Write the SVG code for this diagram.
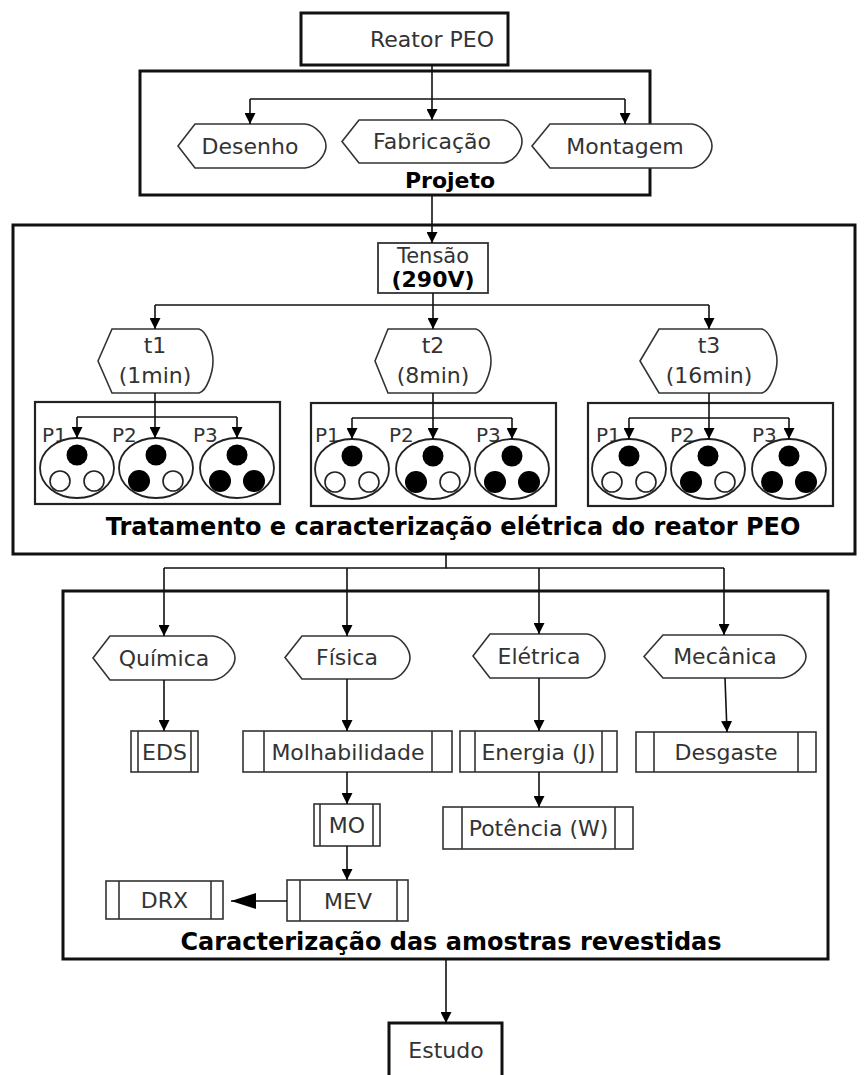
<svg xmlns="http://www.w3.org/2000/svg" width="867" height="1075" viewBox="0 0 867 1075">
<defs>
<marker id="ah" markerUnits="userSpaceOnUse" markerWidth="11" markerHeight="11" refX="11" refY="5.5" orient="auto"><path d="M0,0 L11,5.5 L0,11 z" fill="#000"/></marker>
<marker id="ahb" markerUnits="userSpaceOnUse" markerWidth="25" markerHeight="16" refX="25" refY="8" orient="auto"><path d="M0,0 L25,8 L0,16 z" fill="#000"/></marker>
<style>
.frame{fill:#fff;stroke:#111;stroke-width:3}
.grp{fill:none;stroke:#222;stroke-width:2.2}
.shape{fill:#fff;stroke:#333;stroke-width:1.6}
.proc{fill:#fff;stroke:#333;stroke-width:1.6}
.conn{fill:none;stroke:#111;stroke-width:1.6}
.t{font-family:"DejaVu Sans",sans-serif;font-size:22px;fill:#333;text-anchor:middle}
.p{font-family:"DejaVu Sans",sans-serif;font-size:20px;fill:#333}
.b{font-family:"DejaVu Sans",sans-serif;font-weight:bold;font-size:24px;fill:#000;text-anchor:middle}
.dot{fill:#000}
.hole{fill:#fff;stroke:#222;stroke-width:1.6}
.ell{fill:#fff;stroke:#222;stroke-width:1.8}
</style>
</defs>

<g id="frame-projeto"><rect class="frame" x="140" y="71" width="510" height="124"/><text class="b" x="450" y="188" style="font-size:22px">Projeto</text></g>
<g id="frame-tratamento"><rect class="frame" x="13" y="225" width="842" height="329"/><text class="b" x="453" y="535">Tratamento e caracterização elétrica do reator PEO</text></g>
<g id="frame-caracterizacao"><rect class="frame" x="63" y="591" width="765" height="368"/><text class="b" x="451" y="950">Caracterização das amostras revestidas</text></g>

<g id="reator"><rect class="frame" x="301" y="13" width="207" height="52"/><text class="t" x="432" y="47">Reator PEO</text></g>
<g id="estudo"><rect class="frame" x="389" y="1023" width="113" height="70"/><text class="t" x="446" y="1058">Estudo</text></g>

<g id="desenho"><path class="shape" d="M178,146 L195,124 L305,124 C316,125 326,137 326,146 C326,155 316,167 305,168 L195,168 Z"/><text class="t" x="250" y="153.5">Desenho</text></g>
<g id="fabricacao"><path class="shape" d="M342,141.5 L359,120 L503,120 C513,121 522,132 522,141.5 C522,151 513,162 503,163 L359,163 Z"/><text class="t" x="432" y="149">Fabricação</text></g>
<g id="montagem"><path class="shape" d="M532,146 L550,124 L692,124 C702,125 712,137 712,146 C712,155 702,167 692,168 L550,168 Z"/><text class="t" x="625" y="153.5">Montagem</text></g>

<g id="tensao"><rect x="378" y="243" width="110" height="50" fill="#fff" stroke="#333" stroke-width="1.8"/><text class="t" x="433" y="263" style="font-size:21px">Tensão</text><text class="b" x="433" y="287" style="font-size:22px">(290V)</text></g>

<g id="t1"><path class="shape" d="M98,361 L112,329 L199,329 C207,331 213,350 213,361 C213,372 207,391 199,393 L112,393 Z"/><text class="t" x="155" y="353">t1</text><text class="t" x="155" y="383">(1min)</text></g>
<g id="t2"><path class="shape" d="M375,361 L388,329 L476,329 C484,331 491,350 491,361 C491,372 484,391 476,393 L388,393 Z"/><text class="t" x="433" y="353">t2</text><text class="t" x="433" y="383">(8min)</text></g>
<g id="t3"><path class="shape" d="M640,361 L659,329 L762,329 C770,331 777,350 777,361 C777,372 770,391 762,393 L659,393 Z"/><text class="t" x="709" y="353">t3</text><text class="t" x="709" y="383">(16min)</text></g>

<g id="grupo-t1">
<rect class="grp" x="35" y="402" width="245" height="102"/>
<text class="p" x="42" y="442">P1</text><text class="p" x="112" y="442">P2</text><text class="p" x="193" y="442">P3</text>
<ellipse class="ell" cx="77" cy="468" rx="37" ry="30"/><circle class="dot" cx="77" cy="455" r="10.5"/><circle class="hole" cx="60" cy="481" r="10"/><circle class="hole" cx="94" cy="481" r="10"/>
<ellipse class="ell" cx="156" cy="468" rx="37" ry="30"/><circle class="dot" cx="156" cy="455" r="10.5"/><circle class="dot" cx="139" cy="481" r="11"/><circle class="hole" cx="173" cy="481" r="10"/>
<ellipse class="ell" cx="237" cy="468" rx="37" ry="30"/><circle class="dot" cx="237" cy="455" r="10.5"/><circle class="dot" cx="220" cy="481" r="11"/><circle class="dot" cx="254" cy="481" r="11"/>
</g>
<g id="grupo-t2">
<rect class="grp" x="311" y="403" width="245" height="103"/>
<text class="p" x="315" y="442">P1</text><text class="p" x="389" y="442">P2</text><text class="p" x="476" y="442">P3</text>
<ellipse class="ell" cx="352" cy="469" rx="37" ry="30"/><circle class="dot" cx="352" cy="456" r="10.5"/><circle class="hole" cx="335" cy="482" r="10"/><circle class="hole" cx="369" cy="482" r="10"/>
<ellipse class="ell" cx="433" cy="469" rx="37" ry="30"/><circle class="dot" cx="433" cy="456" r="10.5"/><circle class="dot" cx="416" cy="482" r="11"/><circle class="hole" cx="450" cy="482" r="10"/>
<ellipse class="ell" cx="512" cy="469" rx="37" ry="30"/><circle class="dot" cx="512" cy="456" r="10.5"/><circle class="dot" cx="495" cy="482" r="11"/><circle class="dot" cx="529" cy="482" r="11"/>
</g>
<g id="grupo-t3">
<rect class="grp" x="588" y="403" width="245" height="103"/>
<text class="p" x="596" y="442">P1</text><text class="p" x="670" y="442">P2</text><text class="p" x="752" y="442">P3</text>
<ellipse class="ell" cx="629" cy="469" rx="37" ry="30"/><circle class="dot" cx="629" cy="456" r="10.5"/><circle class="hole" cx="612" cy="482" r="10"/><circle class="hole" cx="646" cy="482" r="10"/>
<ellipse class="ell" cx="708" cy="469" rx="37" ry="30"/><circle class="dot" cx="708" cy="456" r="10.5"/><circle class="dot" cx="691" cy="482" r="11"/><circle class="hole" cx="725" cy="482" r="10"/>
<ellipse class="ell" cx="789" cy="469" rx="37" ry="30"/><circle class="dot" cx="789" cy="456" r="10.5"/><circle class="dot" cx="772" cy="482" r="11"/><circle class="dot" cx="806" cy="482" r="11"/>
</g>

<g id="quimica"><path class="shape" d="M93,658 L110,636 L213,636 C224,637 235,649 235,658 C235,667 224,679 213,680 L110,680 Z"/><text class="t" x="164" y="665.5">Química</text></g>
<g id="fisica"><path class="shape" d="M285,657.5 L302,636 L392,636 C401,637 410,649 410,657.5 C410,666 401,678 392,679 L302,679 Z"/><text class="t" x="347" y="665">Física</text></g>
<g id="eletrica"><path class="shape" d="M473,656 L490,634 L587,634 C596,635 605,647 605,656 C605,665 596,677 587,678 L490,678 Z"/><text class="t" x="539" y="663.5">Elétrica</text></g>
<g id="mecanica"><path class="shape" d="M644,656.5 L663,635 L782,635 C794,636 806,648 806,656.5 C806,665 794,677 782,678 L663,678 Z"/><text class="t" x="725" y="664">Mecânica</text></g>

<g id="eds"><rect class="proc" x="131" y="731" width="67" height="41"/><line class="proc" x1="138" y1="731" x2="138" y2="772"/><line class="proc" x1="191" y1="731" x2="191" y2="772"/><text class="t" x="164.5" y="759.5">EDS</text></g>
<g id="molhabilidade"><rect class="proc" x="243" y="731" width="209" height="41"/><line class="proc" x1="264" y1="731" x2="264" y2="772"/><line class="proc" x1="432" y1="731" x2="432" y2="772"/><text class="t" x="348" y="759.5">Molhabilidade</text></g>
<g id="energia"><rect class="proc" x="460" y="731" width="157" height="41"/><line class="proc" x1="475" y1="731" x2="475" y2="772"/><line class="proc" x1="602" y1="731" x2="602" y2="772"/><text class="t" x="538.5" y="759.5">Energia (J)</text></g>
<g id="desgaste"><rect class="proc" x="636" y="732" width="180" height="40"/><line class="proc" x1="654" y1="732" x2="654" y2="772"/><line class="proc" x1="798" y1="732" x2="798" y2="772"/><text class="t" x="726" y="760">Desgaste</text></g>
<g id="potencia"><rect class="proc" x="443" y="807" width="190" height="42"/><line class="proc" x1="462" y1="807" x2="462" y2="849"/><line class="proc" x1="615" y1="807" x2="615" y2="849"/><text class="t" x="538.5" y="836">Potência (W)</text></g>
<g id="mo"><rect class="proc" x="314" y="804" width="66" height="42"/><line class="proc" x1="320" y1="804" x2="320" y2="846"/><line class="proc" x1="373" y1="804" x2="373" y2="846"/><text class="t" x="347" y="833">MO</text></g>
<g id="mev"><rect class="proc" x="287" y="880" width="121" height="41"/><line class="proc" x1="300" y1="880" x2="300" y2="921"/><line class="proc" x1="397" y1="880" x2="397" y2="921"/><text class="t" x="348" y="908.5">MEV</text></g>
<g id="drx"><rect class="proc" x="106" y="881" width="117" height="38"/><line class="proc" x1="119" y1="881" x2="119" y2="919"/><line class="proc" x1="211" y1="881" x2="211" y2="919"/><text class="t" x="164.5" y="908">DRX</text></g>

<g id="connectors">
<path class="conn" d="M432,65 V120" marker-end="url(#ah)"/>
<path class="conn" d="M250,99 H625"/>
<path class="conn" d="M250,99 V124" marker-end="url(#ah)"/>
<path class="conn" d="M625,99 V124" marker-end="url(#ah)"/>
<path class="conn" d="M432,195 V243" marker-end="url(#ah)"/>
<path class="conn" d="M433,293 V329" marker-end="url(#ah)"/>
<path class="conn" d="M155,305 H709"/>
<path class="conn" d="M155,305 V329" marker-end="url(#ah)"/>
<path class="conn" d="M709,305 V329" marker-end="url(#ah)"/>
<path class="conn" d="M155,393 V438" marker-end="url(#ah)"/>
<path class="conn" d="M77,417 H237"/>
<path class="conn" d="M77,417 V438" marker-end="url(#ah)"/>
<path class="conn" d="M237,417 V438" marker-end="url(#ah)"/>
<path class="conn" d="M433,393 V439" marker-end="url(#ah)"/>
<path class="conn" d="M352,418 H512"/>
<path class="conn" d="M352,418 V439" marker-end="url(#ah)"/>
<path class="conn" d="M512,418 V439" marker-end="url(#ah)"/>
<path class="conn" d="M709,393 V439" marker-end="url(#ah)"/>
<path class="conn" d="M629,418 H789"/>
<path class="conn" d="M629,418 V439" marker-end="url(#ah)"/>
<path class="conn" d="M789,418 V439" marker-end="url(#ah)"/>
<path class="conn" d="M446,554 V568 H164"/>
<path class="conn" d="M446,568 H724"/>
<path class="conn" d="M164,568 V636" marker-end="url(#ah)"/>
<path class="conn" d="M347,568 V636" marker-end="url(#ah)"/>
<path class="conn" d="M539,568 V634" marker-end="url(#ah)"/>
<path class="conn" d="M724,568 V635" marker-end="url(#ah)"/>
<path class="conn" d="M164,680 V731" marker-end="url(#ah)"/>
<path class="conn" d="M347,679 V731" marker-end="url(#ah)"/>
<path class="conn" d="M539,678 V731" marker-end="url(#ah)"/>
<path class="conn" d="M725,678 L727,732" marker-end="url(#ah)"/>
<path class="conn" d="M347,772 V804" marker-end="url(#ah)"/>
<path class="conn" d="M539,772 V807" marker-end="url(#ah)"/>
<path class="conn" d="M347,846 V880" marker-end="url(#ah)"/>
<path class="conn" d="M287,901 H231" marker-end="url(#ahb)"/>
<path class="conn" d="M446,959 V1023" marker-end="url(#ah)"/>
</g>
</svg>
